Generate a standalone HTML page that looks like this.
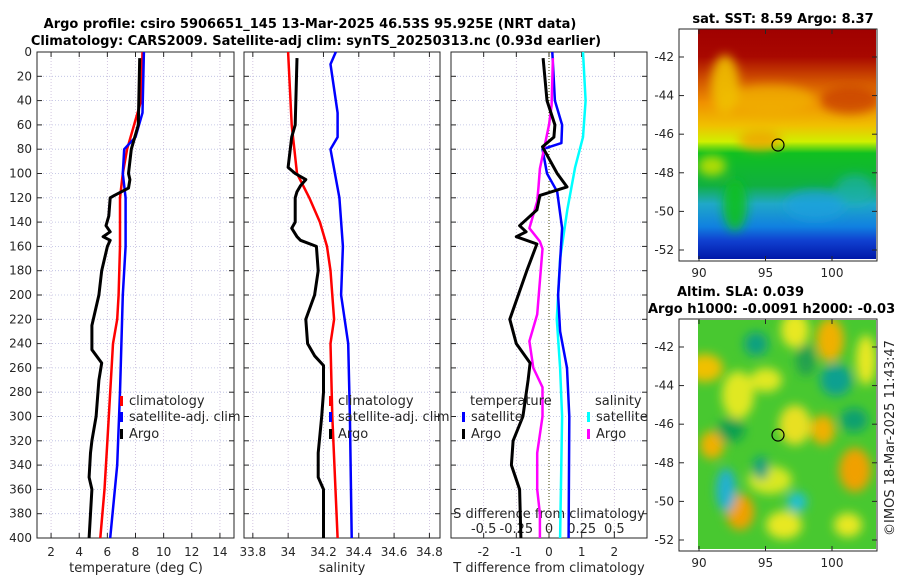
<!DOCTYPE html>
<html><head><meta charset="utf-8"><style>
body{margin:0;background:#fff;}
svg{display:block;font-family:"DejaVu Sans","Liberation Sans",sans-serif;}
</style></head><body>
<svg id="fig" width="900" height="580" viewBox="0 0 900 580" xmlns="http://www.w3.org/2000/svg">
<defs>
<linearGradient id="sstg" x1="0" y1="0" x2="0" y2="1">
<stop offset="0" stop-color="#a00000"/><stop offset="0.12" stop-color="#a80800"/>
<stop offset="0.22" stop-color="#d05000"/><stop offset="0.32" stop-color="#f09000"/>
<stop offset="0.42" stop-color="#f0c000"/><stop offset="0.49" stop-color="#d0f000"/>
<stop offset="0.54" stop-color="#10c020"/><stop offset="0.68" stop-color="#10b040"/>
<stop offset="0.76" stop-color="#20a8c8"/><stop offset="0.86" stop-color="#1080e0"/>
<stop offset="0.92" stop-color="#1040d0"/>
<stop offset="1" stop-color="#0018a8"/></linearGradient>
<filter id="bl"><feGaussianBlur stdDeviation="5"/></filter>
<clipPath id="c1"><rect x="698" y="29" width="178" height="230"/></clipPath>
<clipPath id="c2"><rect x="698" y="320" width="178" height="229"/></clipPath>
</defs>
<g id="root"></g>
</svg>
<script>
// ---- data ----
var climTdepth=[0,40,60,80,100,120,160,200,220,240,280,320,360,400];
var climT=[8.5,8.4,7.9,7.4,7.1,6.9,6.9,6.8,6.7,6.4,6.2,6.0,5.8,5.5];
var satTdepth=[0,50,70,80,100,120,160,200,280,340,400];
var satT=[8.6,8.5,8.0,7.2,7.1,7.3,7.3,7.1,6.9,6.7,6.2];
var argoTdepth=[5,60,80,100,105,112,118,120,135,143,148,152,155,160,180,200,220,225,245,256,270,300,320,330,350,360,380,400];
var argoT=[8.3,8.2,7.7,7.5,7.6,7.5,6.5,6.2,6.1,5.9,6.2,5.7,6.2,6.0,5.6,5.4,5.0,4.9,4.9,5.6,5.4,5.2,4.9,4.8,4.7,4.9,4.8,4.7];
var climSdepth=[0,60,100,120,140,160,180,220,240,300,400];
var climS=[34.0,34.02,34.05,34.12,34.18,34.22,34.24,34.26,34.24,34.25,34.28];
var satSdepth=[0,10,50,70,80,120,160,200,240,300,400];
var satS=[34.27,34.24,34.28,34.28,34.24,34.29,34.31,34.30,34.34,34.35,34.36];
var argoSdepth=[5,60,70,95,100,105,110,115,120,140,145,152,155,160,180,200,220,240,250,258,280,300,330,350,360,400];
var argoS=[34.05,34.04,34.02,34.0,34.04,34.1,34.07,34.05,34.04,34.04,34.02,34.05,34.07,34.16,34.17,34.15,34.1,34.11,34.15,34.2,34.2,34.19,34.17,34.17,34.2,34.2];
var dTargoDepth=[5,40,60,70,78,100,111,118,130,143,148,152,158,180,220,240,256,270,300,320,340,360,400];
var dTargo=[-0.18,-0.06,0.18,0.15,-0.2,0.25,0.55,-0.28,-0.37,-0.9,-0.7,-1.0,-0.37,-0.68,-1.2,-1.0,-0.58,-0.64,-0.8,-1.1,-1.15,-0.9,-0.86];
var dTsatDepth=[0,40,60,75,80,100,115,145,200,230,260,300,400];
var dTsat=[0.1,0.18,0.4,0.38,-0.2,-0.06,0.25,0.4,0.28,0.34,0.55,0.62,0.6];
var dSargoDepth=[5,44,60,96,111,123,145,156,162,216,238,260,276,300,330,360,380,400];
var dSargo=[0.03,0.02,0,-0.07,-0.08,-0.09,-0.15,-0.07,-0.05,-0.09,-0.15,-0.12,-0.05,-0.05,-0.09,-0.09,-0.07,-0.07];
var dSsatDepth=[0,40,70,95,130,170,220,260,300,400];
var dSsat=[0.26,0.28,0.26,0.2,0.14,0.085,0.06,0.085,0.1,0.085];
var depthTicks=[0,20,40,60,80,100,120,140,160,180,200,220,240,260,280,300,320,340,360,380,400];
var tTicks=[2,4,6,8,10,12,14];
var sTicks=[33.8,34,34.2,34.4,34.6,34.8];
var dTicks=[-2,-1,0,1,2];
var dSTickLabels=["-0.5","-0.25","0","0.25","0.5"];
var lonTicks=[90,95,100];
var latTicks1=[-42,-44,-46,-48,-50,-52];
var latTicks2=[-42,-44,-46,-48,-50,-52];

var NS="http://www.w3.org/2000/svg";
var root=document.getElementById('root');
function mk(tag,attrs,parent){var e=document.createElementNS(NS,tag);for(var k in attrs)e.setAttribute(k,attrs[k]);(parent||root).appendChild(e);return e;}
function txt(s,x,y,opt,parent){var e=mk('text',Object.assign({x:x,y:y,'font-size':12,fill:'#262626'},opt||{}),parent);e.textContent=s;return e;}
var Y0=52,Y1=538;
function yD(d){return Y0+(Y1-Y0)*d/400;}
var panels=[{x0:37,x1:234,min:1,max:15},{x0:244,x1:440,min:33.75,max:34.86},{x0:451,x1:647,min:-3,max:3}];
function xf(p){return function(v){return p.x0+(p.x1-p.x0)*(v-p.min)/(p.max-p.min);};}
var xT=xf(panels[0]),xS=xf(panels[1]),xDf=xf(panels[2]);
function grid(p,ticks,xs,name){
  var g=mk('g',{});
  
  
  depthTicks.forEach(function(d){mk('line',{x1:p.x0,x2:p.x1,y1:yD(d),y2:yD(d),stroke:'#b8bce0','stroke-width':0.8,'stroke-dasharray':'1,2'},g);
    mk('line',{x1:p.x0,x2:p.x0+5,y1:yD(d),y2:yD(d),stroke:'#262626'},g);mk('line',{x1:p.x1-5,x2:p.x1,y1:yD(d),y2:yD(d),stroke:'#262626'},g);});
  ticks.forEach(function(v){var x=xs(v);mk('line',{x1:x,x2:x,y1:Y0,y2:Y1,stroke:'#c8b8d8','stroke-width':0.8,'stroke-dasharray':'1,2'},g);
    mk('line',{x1:x,x2:x,y1:Y1-5,y2:Y1,stroke:'#262626'},g);mk('line',{x1:x,x2:x,y1:Y0,y2:Y0+5,stroke:'#262626'},g);});
  var r=mk('rect',{x:p.x0,y:Y0,width:p.x1-p.x0,height:Y1-Y0,fill:'none',stroke:'#262626','stroke-width':1},g);
  
  
}
function line(vals,deps,xs,color,name,w){
  var d=vals.map(function(v,i){return (i?'L':'M')+xs(v).toFixed(1)+','+yD(deps[i]).toFixed(1);}).join('');
  var e=mk('path',{d:d,fill:'none',stroke:color,'stroke-width':w||2.5,'stroke-linejoin':'round'});
  
  
}
grid(panels[0],tTicks,xT,'temperature');
grid(panels[1],sTicks,xS,'salinity');
grid(panels[2],dTicks,xDf,'difference');
depthTicks.forEach(function(d){var t=txt(String(d),32,yD(d)+4,{'text-anchor':'end'});});
tTicks.forEach(function(v){var t=txt(String(v),xT(v),556,{'text-anchor':'middle'});});
sTicks.forEach(function(v){var t=txt(String(v),xS(v),556,{'text-anchor':'middle'});});
dTicks.forEach(function(v){var t=txt(String(v),xDf(v),556,{'text-anchor':'middle'});});
dSTickLabels.forEach(function(s,i){var t=txt(s,xDf(dTicks[i]),533,{'text-anchor':'middle','font-size':13});});
var zl=mk('line',{x1:xDf(0),x2:xDf(0),y1:Y0,y2:Y1,stroke:'#404000','stroke-width':1,'stroke-dasharray':'1,2'});

var a;
a=txt('temperature (deg C)',136,572,{'text-anchor':'middle','font-size':13});
a=txt('salinity',342,572,{'text-anchor':'middle','font-size':13});
a=txt('T difference from climatology',549,572,{'text-anchor':'middle','font-size':13});
a=txt('S difference from climatology',549,518,{'text-anchor':'middle','font-size':13});
line(climT,climTdepth,xT,'#ff0000','temp-climatology-line');
line(satT,satTdepth,xT,'#0000ff','temp-satellite-line');
line(argoT,argoTdepth,xT,'#000000','temp-argo-line',3);
line(climS,climSdepth,xS,'#ff0000','sal-climatology-line');
line(satS,satSdepth,xS,'#0000ff','sal-satellite-line');
line(argoS,argoSdepth,xS,'#000000','sal-argo-line',3);
function sx(v){return xDf(v*4);}
line(dSsat,dSsatDepth,sx,'#00ffff','sdiff-satellite-line');
line(dTsat,dTsatDepth,xDf,'#0000ff','tdiff-satellite-line');
line(dSargo,dSargoDepth,sx,'#ff00ff','sdiff-argo-line');
line(dTargo,dTargoDepth,xDf,'#000000','tdiff-argo-line',3);
function leg(x,y,color,label,name){var g=mk('g',{});
  mk('rect',{x:x,y:y-9,width:3,height:10,fill:color},g);txt(label,x+9,y,{'font-size':13},g);}
leg(120,405,'#ff0000','climatology','legend-climatology');
leg(120,421,'#0000ff','satellite-adj. clim','legend-satellite-adj');
leg(120,438,'#000000','Argo','legend-argo');
leg(329,405,'#ff0000','climatology','legend-climatology-sal');
leg(329,421,'#0000ff','satellite-adj. clim','legend-satellite-adj-sal');
leg(329,438,'#000000','Argo','legend-argo-sal');
a=txt('temperature',470,405,{'font-size':13});
a=txt('salinity',595,405,{'font-size':13});
leg(462,421,'#0000ff','satellite','legend-t-satellite');
leg(462,438,'#000000','Argo','legend-t-argo');
leg(587,421,'#00ffff','satellite','legend-s-satellite');
leg(587,438,'#ff00ff','Argo','legend-s-argo');
a=txt('Argo profile: csiro 5906651_145 13-Mar-2025 46.53S 95.925E (NRT data)',310,28,{'text-anchor':'middle','font-size':13,'font-weight':'bold',fill:'#000'});
a=txt('Climatology: CARS2009. Satellite-adj clim: synTS_20250313.nc (0.93d earlier)',316,45,{'text-anchor':'middle','font-size':13,'font-weight':'bold',fill:'#000'});

// ---- maps ----
function lonX(l){return 699+(l-90)*13.3;}
function map(top,bot,latTop,pxPerDeg,latTicks,name){
  var g=mk('g',{});
  mk('rect',{x:679,y:top,width:198,height:bot-top,fill:'none',stroke:'#262626'},g);
  latTicks.forEach(function(l){var y=top+(latTop-l)*pxPerDeg;
    mk('line',{x1:679,x2:684,y1:y,y2:y,stroke:'#262626'},g);mk('line',{x1:872,x2:877,y1:y,y2:y,stroke:'#262626'},g);
    var t=txt(String(l),674,y+4,{'text-anchor':'end'},g);});
  lonTicks.forEach(function(l){var x=lonX(l);mk('line',{x1:x,x2:x,y1:bot-5,y2:bot,stroke:'#262626'},g);mk('line',{x1:x,x2:x,y1:top,y2:top+5,stroke:'#262626'},g);
    var t=txt(String(l),x,bot+16,{'text-anchor':'middle'},g);});
  return g;
}
var g1=mk('g',{'clip-path':'url(#c1)'});
mk('rect',{x:698,y:29,width:178,height:230,fill:'url(#sstg)'},g1);
var bg=mk('g',{filter:'url(#bl)'},g1);
mk('ellipse',{cx:770,cy:100,rx:45,ry:15,fill:'#f0b000',opacity:0.8},bg);
mk('ellipse',{cx:850,cy:100,rx:30,ry:14,fill:'#c84000',opacity:0.8},bg);
mk('ellipse',{cx:725,cy:85,rx:14,ry:30,fill:'#f0c000',opacity:0.9},bg);
mk('ellipse',{cx:760,cy:140,rx:22,ry:10,fill:'#f0a000',opacity:0.8},bg);
mk('ellipse',{cx:712,cy:166,rx:14,ry:10,fill:'#c0e000',opacity:0.9},bg);
mk('ellipse',{cx:735,cy:205,rx:12,ry:26,fill:'#10c020',opacity:0.9},bg);
mk('ellipse',{cx:815,cy:205,rx:30,ry:15,fill:'#20a0e0',opacity:0.7},bg);
mk('ellipse',{cx:855,cy:190,rx:20,ry:15,fill:'#20b0b0',opacity:0.7},bg);
map(29,261,-40.55,19.3,latTicks1,'sst-map');
mk('ellipse',{cx:778,cy:145,rx:6,ry:6,fill:'none',stroke:'#000','stroke-width':1.2});
var g2=mk('g',{'clip-path':'url(#c2)'});
mk('rect',{x:698,y:320,width:178,height:229,fill:'#48c830'},g2);
var b2=mk('g',{filter:'url(#bl)'},g2);
[[705,368,18,14,'#f0c000'],[738,395,16,24,'#e0e820'],[795,330,14,18,'#e8e820'],[830,340,14,22,'#f0b000'],[866,360,10,25,'#e8e820'],[795,425,16,20,'#e8e020'],[766,380,16,12,'#e0e820'],[823,430,12,15,'#f0b000'],[712,445,12,14,'#f0b000'],[770,480,22,14,'#d8e820'],[855,470,16,22,'#f0a000'],[740,512,14,18,'#f0a000'],[784,525,18,14,'#e8e820'],[848,525,14,12,'#e8e820']].forEach(function(e){mk('ellipse',{cx:e[0],cy:e[1],rx:e[2],ry:e[3],fill:e[4]},b2);});
[[756,344,12,12,'#10a080'],[806,360,10,16,'#20a050'],[836,380,16,16,'#10a090'],[854,420,14,12,'#10a070'],[731,430,14,12,'#10a050'],[726,490,10,22,'#20b0d0'],[797,502,10,10,'#20c0d0'],[761,468,8,12,'#10a080']].forEach(function(e){mk('ellipse',{cx:e[0],cy:e[1],rx:e[2],ry:e[3],fill:e[4]},b2);});
map(319,551,-40.55,19.3,latTicks2,'sla-map');
mk('ellipse',{cx:778,cy:435,rx:6,ry:6,fill:'none',stroke:'#000','stroke-width':1.2});
a=txt('sat. SST: 8.59 Argo: 8.37',783,23,{'text-anchor':'middle','font-size':13,'font-weight':'bold',fill:'#000'});
a=txt('Altim. SLA: 0.039',677,296,{'font-size':13,'font-weight':'bold',fill:'#000'});
a=txt('Argo h1000: -0.0091 h2000: -0.03',648,313,{'font-size':13,'font-weight':'bold',fill:'#000'});
a=txt('©IMOS 18-Mar-2025 11:43:47',0,0,{'font-size':13,'text-anchor':'middle',transform:'translate(894,438) rotate(-90)'});
</script>
</body></html>
